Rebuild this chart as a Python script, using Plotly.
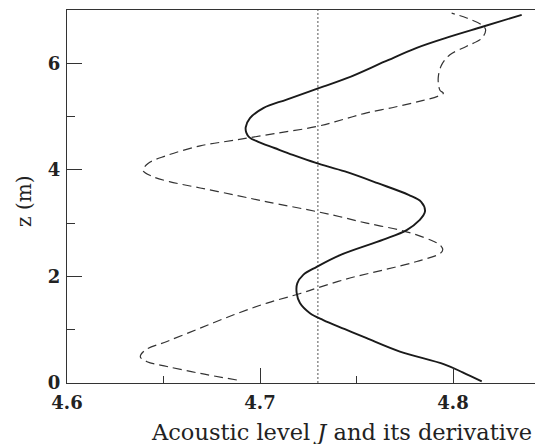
import plotly.graph_objects as go

# Acoustic level J (solid) vs height z
z_J = [0.03, 0.20, 0.35, 0.59, 0.84, 1.01, 1.18, 1.31, 1.50, 1.69, 1.87, 2.03, 2.18, 2.40, 2.69, 2.87,
       3.05, 3.22, 3.40, 3.53, 3.75, 3.97, 4.13, 4.28, 4.41, 4.53, 4.61, 4.70, 4.80, 4.97, 5.16, 5.32,
       5.515, 5.72, 6.03, 6.29, 6.50, 6.69, 6.91]
J = [4.8149, 4.8050, 4.7955, 4.7725, 4.7553, 4.7440, 4.7328, 4.7259, 4.7207, 4.7190, 4.7193, 4.7224,
     4.7294, 4.7415, 4.7639, 4.7760, 4.7825, 4.7855, 4.7835, 4.7770, 4.7610, 4.7440, 4.7290, 4.7170,
     4.7075, 4.6988, 4.6945, 4.6929, 4.6926, 4.6948, 4.7017, 4.7138, 4.7290, 4.7450, 4.7645, 4.7812,
     4.7984, 4.8157, 4.8356]

# Derivative (dashed)
z_dJ = [0.056, 0.18, 0.31, 0.40, 0.49, 0.62, 0.78, 1.03, 1.28, 1.50, 1.68, 1.78, 1.97, 2.12, 2.28, 2.43,
        2.50, 2.59, 2.66, 2.78, 2.87, 3.00, 3.12, 3.22, 3.40, 3.52, 3.66, 3.78, 3.88, 3.99, 4.12, 4.26,
        4.45, 4.56, 4.68, 4.81, 4.94, 5.07, 5.18, 5.29, 5.38, 5.44, 5.49, 5.60, 5.75, 5.97, 6.16, 6.32,
        6.47, 6.63, 6.72, 6.85, 6.94]
dJ = [4.6880, 4.6690, 4.6518, 4.6415, 4.6380, 4.6406, 4.6518, 4.6690, 4.6864, 4.7036, 4.7209, 4.7294,
      4.7466, 4.7639, 4.7812, 4.7933, 4.7947, 4.7933, 4.7898, 4.7812, 4.7725, 4.7553, 4.7415, 4.7290,
      4.7036, 4.6880, 4.6690, 4.6530, 4.6440, 4.6394, 4.6420, 4.6510, 4.6690, 4.6874, 4.7074, 4.7290,
      4.7425, 4.7553, 4.7700, 4.7830, 4.7920, 4.7950, 4.7933, 4.7925, 4.7924, 4.7941, 4.7984, 4.8071,
      4.8149, 4.8169, 4.8149, 4.8071, 4.7993]

mean_level = 4.73
z_span = [0, 7]

x_ticks = [4.6, 4.7, 4.8]
x_ticklabels = ["4.6", "4.7", "4.8"]
y_ticks = [0, 2, 4, 6]
y_ticklabels = ["0", "2", "4", "6"]

FONT = "DejaVu Serif"
INK = "#222222"

fig = go.Figure()
fig.add_trace(go.Scatter(x=[mean_level, mean_level], y=z_span, mode="lines",
                         line=dict(color="#555555", width=1, dash="2px,2px"), hoverinfo="skip"))
fig.add_trace(go.Scatter(x=dJ, y=z_dJ, mode="lines",
                         line=dict(color="#333333", width=1.2, dash="9px,5px", shape="spline", smoothing=1.0)))
fig.add_trace(go.Scatter(x=J, y=z_J, mode="lines",
                         line=dict(color="#1a1a1a", width=1.9, shape="spline", smoothing=1.0)))

plot_w = 535 - 67
plot_h = 444 - 10 - 61

fig.update_layout(
    width=535, height=444,
    margin=dict(l=67, r=0, t=10, b=61),
    paper_bgcolor="white", plot_bgcolor="white",
    showlegend=False,
    font=dict(family=FONT, size=18, color=INK),
    annotations=[
        dict(text="Acoustic level <i>J</i> and its derivative", xref="paper", yref="paper",
             x=(341 - 67) / plot_w, y=-(432 - 383) / plot_h, xanchor="center", yanchor="middle",
             showarrow=False, font=dict(family=FONT, size=22.5, color=INK)),
        dict(text="z (m)", xref="paper", yref="paper", x=(24 - 67) / plot_w, y=(383 - 202) / plot_h,
             textangle=-90, xanchor="center", yanchor="middle",
             showarrow=False, font=dict(family=FONT, size=20, color=INK)),
    ],
)

fig.update_xaxes(
    range=[4.6, 4.6 + plot_w / 1930], showgrid=False, zeroline=False,
    showline=True, linecolor="#333333", linewidth=1.2, mirror=True,
    ticks="inside", ticklen=15, tickcolor="#333333", tickwidth=1,
    tickvals=x_ticks, ticktext=x_ticklabels, ticklabelstandoff=3,
    tickfont=dict(family=FONT, size=18, color=INK, weight="bold"),
    minor=dict(dtick=0.05, tick0=4.6, ticks="inside", ticklen=7, tickcolor="#333333", tickwidth=1),
    fixedrange=True,
)
fig.update_yaxes(
    range=[0, 7], showgrid=False, zeroline=False,
    showline=True, linecolor="#333333", linewidth=1.2,
    ticks="inside", ticklen=15, tickcolor="#333333", tickwidth=1,
    tickvals=y_ticks, ticktext=y_ticklabels, ticklabelstandoff=2,
    tickfont=dict(family=FONT, size=18, color=INK, weight="bold"),
    minor=dict(dtick=1, tick0=0, ticks="inside", ticklen=8, tickcolor="#333333", tickwidth=1),
    fixedrange=True,
)

fig.write_html("out.html")
